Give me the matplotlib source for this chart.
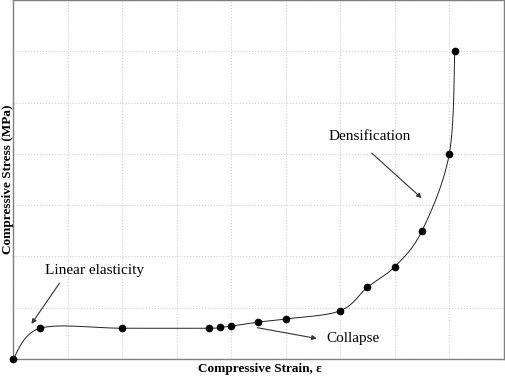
import numpy as np
import matplotlib
matplotlib.use('Agg')
import matplotlib.pyplot as plt

plt.rcParams['font.family'] = 'Liberation Serif'

strain = [0.0, 0.5, 2.0, 3.6, 3.8, 4.0, 4.5, 5.0, 6.0, 6.5, 7.0, 7.5, 8.0, 8.1]
stress = [0.0, 0.6, 0.6, 0.6, 0.62, 0.64, 0.72, 0.78, 0.94, 1.4, 1.8, 2.5, 4.0, 6.0]


def smooth(xs, ys, n=40):
    # catmull-rom style smoothing, like a spreadsheet "smoothed line"
    px = [xs[0]] + list(xs) + [xs[-1]]
    py = [ys[0]] + list(ys) + [ys[-1]]
    ox, oy = [], []
    t = np.linspace(0, 1, n)
    for i in range(1, len(px) - 2):
        x0, x1, x2, x3 = px[i-1], px[i], px[i+1], px[i+2]
        y0, y1, y2, y3 = py[i-1], py[i], py[i+1], py[i+2]
        c1x, c1y = x1 + (x2 - x0) / 6, y1 + (y2 - y0) / 6
        c2x, c2y = x2 - (x3 - x1) / 6, y2 - (y3 - y1) / 6
        bx = (1-t)**3*x1 + 3*(1-t)**2*t*c1x + 3*(1-t)*t**2*c2x + t**3*x2
        by = (1-t)**3*y1 + 3*(1-t)**2*t*c1y + 3*(1-t)*t**2*c2y + t**3*y2
        ox.extend(bx)
        oy.extend(by)
    return ox, oy


fig = plt.figure(figsize=(5.05, 3.76), dpi=100)
ax = fig.add_axes([0.0257, 0.0452, 0.972, 0.955])

sx, sy = smooth(strain, stress)
ax.plot(sx, sy, color='#222222', lw=0.7)
ax.plot(strain, stress, 'o', color='black', ms=4.5, clip_on=False, zorder=5)

ax.set_xlim(0, 9)
ax.set_ylim(0, 7)
ax.set_xticks(np.arange(0, 10, 1))
ax.set_yticks(np.arange(0, 8, 1))
ax.tick_params(length=0, labelbottom=False, labelleft=False)
ax.grid(True, color='#d0d0d0', linestyle=':', lw=0.8)
for s in ax.spines.values():
    s.set_color('#808080')
    s.set_linewidth(1)

ax.set_xlabel('Compressive Strain, ε', fontweight='bold', fontsize=9.5)
ax.set_ylabel('Compressive Stress (MPa)', fontweight='bold', fontsize=9.5)
ax.xaxis.set_label_coords(0.504, -0.029)
ax.yaxis.set_label_coords(-0.011, 0.5)
ax.xaxis.label.set_va('center')
ax.yaxis.label.set_va('center')

arrow = dict(arrowstyle='-|>', color='#333333', lw=0.8, mutation_scale=7)
ax.annotate('', xy=(0.31, 0.64), xytext=(0.88, 1.52), arrowprops=arrow)
ax.text(0.59, 1.72, 'Linear elasticity', fontsize=11, va='center')
ax.annotate('', xy=(5.62, 0.39), xytext=(4.43, 0.62), arrowprops=arrow)
ax.text(5.75, 0.39, 'Collapse', fontsize=11, va='center')
ax.annotate('', xy=(7.53, 3.1), xytext=(6.54, 4.05), arrowprops=arrow)
ax.text(5.79, 4.33, 'Densification', fontsize=11, va='center')

fig.savefig('out.png', dpi=100)
